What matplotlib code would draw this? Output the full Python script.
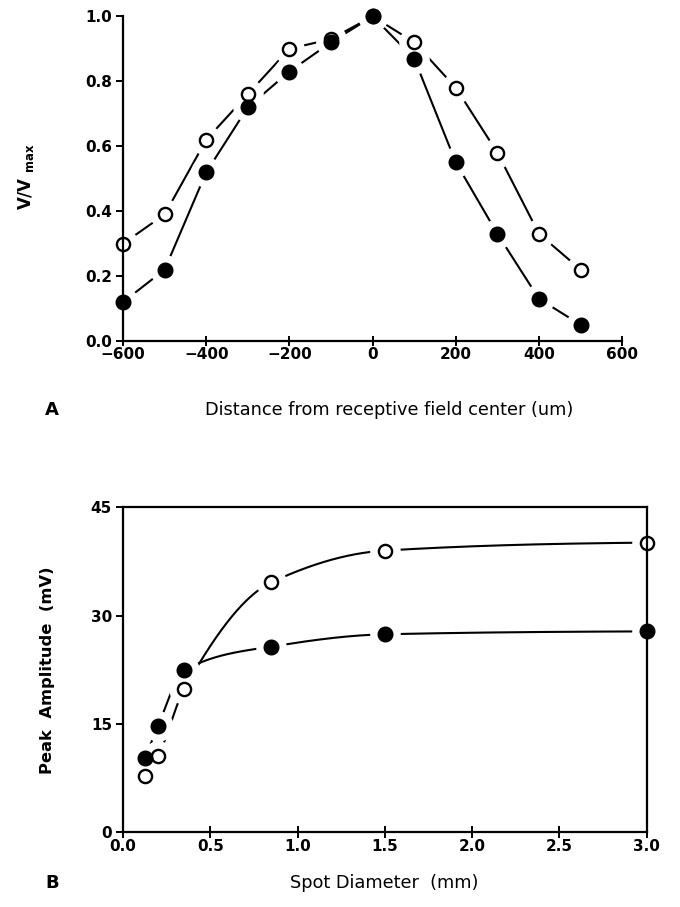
import numpy as np
import matplotlib
matplotlib.use('Agg')
import matplotlib.pyplot as plt

# Panel A: distance from receptive field center (um)
dist = [-600, -500, -400, -300, -200, -100, 0, 100, 200, 300, 400, 500]
v_open = [0.30, 0.39, 0.62, 0.76, 0.90, 0.93, 1.00, 0.92, 0.78, 0.58, 0.33, 0.22]
v_filled = [0.12, 0.22, 0.52, 0.72, 0.83, 0.92, 1.00, 0.87, 0.55, 0.33, 0.13, 0.05]

# Panel B: spot diameter (mm)
spot = [0.125, 0.2, 0.35, 0.85, 1.5, 3.0]
amp_open = [7.7, 10.5, 19.8, 34.6, 39.0, 40.1]
amp_filled = [10.2, 14.7, 22.4, 25.7, 27.4, 27.8]

plt.rcParams['font.family'] = 'DejaVu Sans'
plt.rcParams['mathtext.fontset'] = 'dejavusans'


def pchip(x, y, xs):
    # monotone cubic curve through the points (for the smooth lines in B)
    x = np.asarray(x, float)
    y = np.asarray(y, float)
    h = np.diff(x)
    d = np.diff(y) / h
    m = np.zeros_like(y)
    for k in range(1, len(x) - 1):
        if d[k - 1] * d[k] > 0:
            w1 = 2 * h[k] + h[k - 1]
            w2 = h[k] + 2 * h[k - 1]
            m[k] = (w1 + w2) / (w1 / d[k - 1] + w2 / d[k])
    m[0] = d[0]
    m[-1] = d[-1] * 0.3
    idx = np.clip(np.searchsorted(x, xs) - 1, 0, len(x) - 2)
    t = (xs - x[idx]) / h[idx]
    h00 = 2 * t**3 - 3 * t**2 + 1
    h10 = t**3 - 2 * t**2 + t
    h01 = -2 * t**3 + 3 * t**2
    h11 = t**3 - t**2
    return h00 * y[idx] + h10 * h[idx] * m[idx] + h01 * y[idx + 1] + h11 * h[idx] * m[idx + 1]


def draw_series(ax, x, y, lx, ly):
    # line plus a white halo round each point, so the line stops short of the marker
    ax.plot(lx, ly, color='black', lw=1.5, zorder=1.5, clip_on=False)
    ax.plot(x, y, 'o', ms=21, color='white', mec='white', zorder=1.9, clip_on=False)


def draw_marks(ax, x, y, filled):
    if filled:
        ax.plot(x, y, 'o', ms=10.5, color='black', mec='black', zorder=3.2, clip_on=False)
    else:
        ax.plot(x, y, 'o', ms=9.5, mfc='none', mec='black', mew=1.7, zorder=3, clip_on=False)


fig = plt.figure(figsize=(6.8, 9.07), dpi=100)

# ---- Panel A ----
axA = fig.add_axes([0.181, 0.624, 0.734, 0.358])
draw_series(axA, dist, v_open, dist, v_open)
draw_series(axA, dist, v_filled, dist, v_filled)
draw_marks(axA, dist, v_open, False)
draw_marks(axA, dist, v_filled, True)
axA.set_xlim(-600, 600)
axA.set_ylim(0, 1.0)
axA.set_xticks([-600, -400, -200, 0, 200, 400, 600])
axA.set_yticks([0.0, 0.2, 0.4, 0.6, 0.8, 1.0])
axA.set_yticklabels(['0.0', '0.2', '0.4', '0.6', '0.8', '1.0'])
axA.set_xticklabels(['\u2212600', '\u2212400', '\u2212200', '0', '200', '400', '600'])
axA.spines['top'].set_visible(False)
axA.spines['right'].set_visible(False)
for s in axA.spines.values():
    s.set_linewidth(1.6)
axA.tick_params(axis='x', direction='inout', length=7, width=1.4, pad=1, labelsize=11)
axA.tick_params(axis='y', direction='out', length=5, width=1.4, pad=3, labelsize=11)
for lab in axA.get_xticklabels() + axA.get_yticklabels():
    lab.set_fontweight('bold')

fig.text(26 / 680, 1 - 176 / 907, r'V/V $_{\mathbf{max}}$', rotation=90, ha='center', va='center',
         fontsize=12, fontweight='bold')
fig.text(45 / 680, 1 - 410 / 907, 'A', ha='left', va='center', fontsize=13, fontweight='bold')
fig.text(389 / 680, 1 - 410 / 907, 'Distance from receptive field center (um)', ha='center', va='center',
         fontsize=12.8)

# ---- Panel B ----
axB = fig.add_axes([0.181, 0.0827, 0.770, 0.358])
xs = np.linspace(spot[0], spot[-1], 400)
draw_series(axB, spot, amp_open, xs, pchip(spot, amp_open, xs))
draw_series(axB, spot, amp_filled, xs, pchip(spot, amp_filled, xs))
draw_marks(axB, spot, amp_open, False)
draw_marks(axB, spot, amp_filled, True)
axB.set_xlim(0, 3.0)
axB.set_ylim(0, 45)
axB.set_xticks([0.0, 0.5, 1.0, 1.5, 2.0, 2.5, 3.0])
axB.set_xticklabels(['0.0', '0.5', '1.0', '1.5', '2.0', '2.5', '3.0'])
axB.set_yticks([0, 15, 30, 45])
for s in axB.spines.values():
    s.set_linewidth(1.6)
axB.tick_params(axis='x', direction='inout', length=8, width=1.4, pad=1, labelsize=11)
axB.tick_params(axis='y', direction='out', length=5, width=1.4, pad=3, labelsize=11)
for lab in axB.get_xticklabels() + axB.get_yticklabels():
    lab.set_fontweight('bold')

fig.text(48 / 680, 1 - 670 / 907, 'Peak  Amplitude  (mV)', rotation=90, ha='center', va='center',
         fontsize=11.8, fontweight='bold')
fig.text(45 / 680, 1 - 883 / 907, 'B', ha='left', va='center', fontsize=13, fontweight='bold')
fig.text(384 / 680, 1 - 883 / 907, 'Spot Diameter  (mm)', ha='center', va='center', fontsize=12.8)

fig.savefig('out.png', dpi=100)
